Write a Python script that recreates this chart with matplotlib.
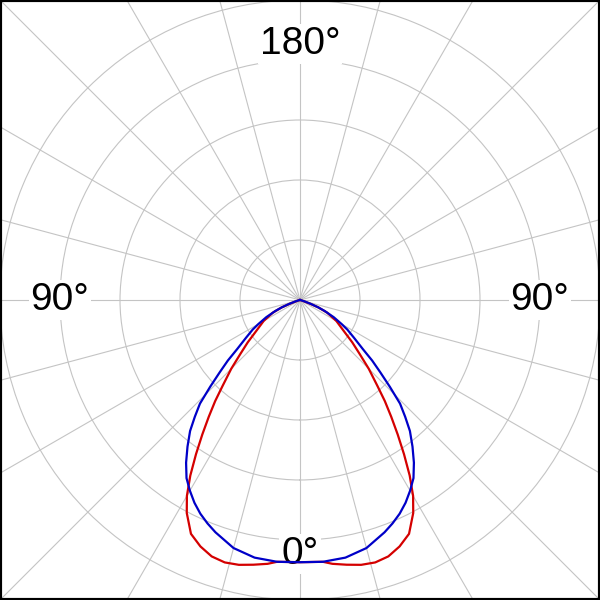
import numpy as np
import matplotlib.pyplot as plt

plt.rcParams['font.family'] = ['Liberation Sans', 'DejaVu Sans']

# 배광 데이터 (각도: 도, 광도: 임의 단위, 원 간격 = 100)
blue_angle = [0, 5, 10, 15, 20, 22.5, 25, 27.5, 30, 32.5, 35, 37.5, 40, 42, 44, 46, 48,
              50, 52, 55, 58, 60, 63, 66, 68, 70, 73, 76, 80, 90]
blue_value = [437, 438, 436, 428, 412, 403, 393, 381, 367, 352, 331, 308, 285, 262, 240,
              208, 180, 157, 133, 110, 93, 80, 63, 45, 33, 20, 8, 2, 0, 0]

red_angle = [0, 5, 7, 10, 13, 16, 19, 22, 25, 28, 30, 32, 34, 36, 38, 40, 42, 45,
             48, 51, 55, 60, 65, 68, 70, 75, 80, 90]
red_value = [437, 438, 443, 448, 453, 455, 452, 443, 430, 402, 377, 345, 310, 277,
             247, 220, 193, 162, 133, 112, 88, 70, 50, 33, 17, 3, 0, 0]

ring_values = [100, 200, 300, 400, 500]
angle_labels = [(0, 423, "0°"), (90, 400, "90°"), (-90, 400, "90°"), (180, 427, "180°")]

fig = plt.figure(figsize=(6, 6), dpi=100)
s = np.sqrt(2)
ax = fig.add_axes([(1 - s) / 2, (1 - s) / 2, s, s], projection='polar')
ax.set_theta_zero_location('S')
ax.set_rlim(0, 500 * s)
ax.set_thetagrids(np.arange(0, 360, 15), labels=[])
ax.set_rgrids(ring_values, labels=[])
ax.grid(color='#c4c4c4', lw=0.8)
ax.spines['polar'].set_visible(False)


def mirror(ang, val):
    # 좌우 대칭으로 펼치기
    a = np.array(ang, dtype=float)
    v = np.array(val, dtype=float)
    return np.deg2rad(np.concatenate([-a[::-1], a[1:]])), np.concatenate([v[::-1], v[1:]])


for txt_ang, r, txt in angle_labels:
    ax.text(np.deg2rad(txt_ang), r, txt, fontsize=28, ha='center', va='center', zorder=3,
            bbox=dict(boxstyle='square,pad=0.05', fc='white', ec='none'))

t, r = mirror(red_angle, red_value)
ax.plot(t, r, color='#d40000', lw=1.6, zorder=4)
t, r = mirror(blue_angle, blue_value)
ax.plot(t, r, color='#0000c8', lw=1.6, zorder=5)

# 바깥 테두리
frame = fig.add_axes([0, 0, 1, 1], facecolor='none')
frame.set_xticks([])
frame.set_yticks([])
for sp in frame.spines.values():
    sp.set_linewidth(3)
    sp.set_color('black')

fig.savefig('out.png', dpi=100)
